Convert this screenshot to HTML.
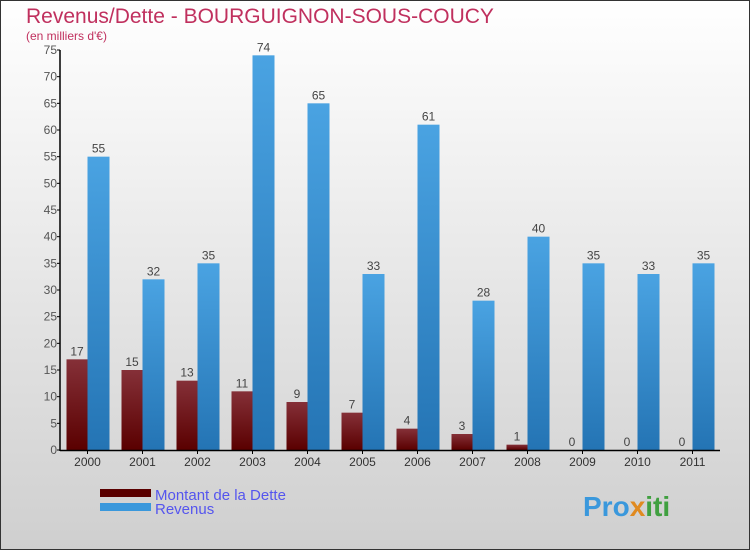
<!DOCTYPE html>
<html><head><meta charset="utf-8"><style>
body{margin:0;}
#wrap{width:750px;height:550px;position:relative;overflow:hidden;}
text{font-family:"Liberation Sans",sans-serif;}
</style></head><body>
<div id="wrap">
<svg id="chart" width="750" height="550" xmlns="http://www.w3.org/2000/svg">
<defs>
<linearGradient id="bg" x1="0" y1="0" x2="0" y2="1"><stop offset="0" stop-color="#ffffff"/><stop offset="1" stop-color="#cfcfcf"/></linearGradient>
<linearGradient id="gd" x1="0" y1="0" x2="0" y2="1"><stop offset="0" stop-color="#853038"/><stop offset="1" stop-color="#5a0000"/></linearGradient>
<linearGradient id="gr" x1="0" y1="0" x2="0" y2="1"><stop offset="0" stop-color="#4aa3e2"/><stop offset="1" stop-color="#2474b4"/></linearGradient>
</defs>
<rect x="0.5" y="0.5" width="749" height="549" fill="url(#bg)" stroke="#333"/>
<text x="26" y="23" font-size="21" fill="#c0305e">Revenus/Dette - BOURGUIGNON-SOUS-COUCY</text>
<text x="26" y="40" font-size="12" fill="#c0305e">(en milliers d'€)</text>
<g id="plot"></g>
<rect x="100" y="489" width="51" height="8" fill="#5a0000"/>
<text x="155" y="500" font-size="15" fill="#5555ee">Montant de la Dette</text>
<rect x="100" y="503" width="51" height="8" fill="#3a98dc"/>
<text x="155" y="514" font-size="15" fill="#5555ee">Revenus</text>
<text x="583" y="516" font-size="28" font-weight="bold" fill="#3a98dc">Pro<tspan fill="#e08a20">x</tspan><tspan fill="#40a040">iti</tspan></text>
</svg>
</div>
<script>
const years=["2000","2001","2002","2003","2004","2005","2006","2007","2008","2009","2010","2011"];
const dette=[17,15,13,11,9,7,4,3,1,0,0,0];
const revenus=[55,32,35,74,65,33,61,28,40,35,33,35];
const yTicks=[0,5,10,15,20,25,30,35,40,45,50,55,60,65,70,75];
const NS="http://www.w3.org/2000/svg";
const g=document.getElementById('plot');
const y0=450,yTop=50,yMax=75,x0=60,x1=720;
const yS=v=>y0-(v/yMax)*(y0-yTop);
const step=(x1-x0)/years.length;
const xC=i=>x0+step*(i+0.5);
function mk(t,a){const e=document.createElementNS(NS,t);for(const k in a)e.setAttribute(k,a[k]);g.appendChild(e);return e;}
years.forEach((yr,i)=>{
  const c=xC(i);
  const hd=y0-yS(dette[i]);
  const bd=mk('rect',{x:c-21,y:yS(dette[i]),width:21,height:hd,fill:'url(#gd)'});
  
  
  const br=mk('rect',{x:c,y:yS(revenus[i]),width:22,height:y0-yS(revenus[i]),fill:'url(#gr)'});
  
  
  const ld=mk('text',{x:c-10.5,y:yS(dette[i])-4,'font-size':12,fill:'#444','text-anchor':'middle'});ld.textContent=dette[i];
  
  
  const lr=mk('text',{x:c+11,y:yS(revenus[i])-4,'font-size':12,fill:'#444','text-anchor':'middle'});lr.textContent=revenus[i];
  
  
  mk('line',{x1:c,x2:c,y1:y0,y2:y0+4,stroke:'#000'});
  const xl=mk('text',{x:c,y:y0+16,'font-size':12,fill:'#333','text-anchor':'middle'});xl.textContent=yr;
  
  
});
yTicks.forEach(v=>{
  mk('line',{x1:x0-3,x2:x0,y1:yS(v),y2:yS(v),stroke:'#000'});
  const t=mk('text',{x:x0-3,y:yS(v)+4,'font-size':12,fill:'#555','text-anchor':'end'});t.textContent=v;
  
  
});
const ax=mk('line',{x1:x0,x2:x0,y1:yTop,y2:y0+1,stroke:'#000','stroke-width':1.5});


const bx=mk('line',{x1:x0,x2:x1,y1:y0+0.5,y2:y0+0.5,stroke:'#000','stroke-width':1.5});


</script>
</body></html>
